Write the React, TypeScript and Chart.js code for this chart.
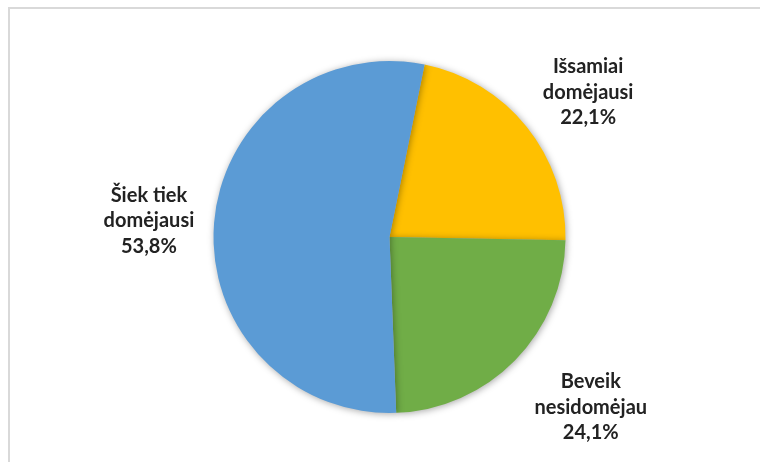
import React, { useEffect, useRef } from "react";
import { Chart, registerables } from "chart.js";

Chart.register(...registerables);

const categories = ["Išsamiai domėjausi", "Beveik nesidomėjau", "Šiek tiek domėjausi"];
const labelLines = [["Išsamiai", "domėjausi"], ["Beveik", "nesidomėjau"], ["Šiek tiek", "domėjausi"]];
const values = [22.1, 24.1, 53.8];
const valueLabels = ["22,1%", "24,1%", "53,8%"];
const colors = ["#FFC000", "#70AD47", "#5B9BD5"];
const labelDistance = [1.397, 1.498, 1.37];
const labelAngleOffset = [2.6, -4.2, -0.8];

const shadowPlugin = {
  id: "pieShadow",
  beforeDatasetsDraw(chart: any) {
    const ctx = chart.ctx;
    ctx.save();
    ctx.shadowColor = "rgba(0,0,0,0.35)";
    ctx.shadowBlur = 7;
    ctx.shadowOffsetX = 1;
    ctx.shadowOffsetY = 1;
  },
  afterDatasetsDraw(chart: any) {
    chart.ctx.restore();
  },
};

const labelPlugin = {
  id: "outerLabels",
  afterDraw(chart: any) {
    const ctx = chart.ctx;
    const meta = chart.getDatasetMeta(0);
    ctx.save();
    ctx.font = "bold 20px Lato, 'Open Sans', sans-serif";
    ctx.fillStyle = "#222222";
    ctx.textAlign = "center";
    ctx.textBaseline = "middle";
    meta.data.forEach((arc: any, i: number) => {
      const p = arc.getProps(["x", "y", "startAngle", "endAngle", "outerRadius"], true);
      const mid = (p.startAngle + p.endAngle) / 2 + (labelAngleOffset[i] * Math.PI) / 180;
      const d = p.outerRadius * labelDistance[i];
      const cx = p.x + Math.cos(mid) * d;
      const cy = p.y + Math.sin(mid) * d;
      const lines = [...labelLines[i], valueLabels[i]];
      const lh = 25.5;
      lines.forEach((t, k) => {
        ctx.fillText(t, cx, cy + (k - (lines.length - 1) / 2) * lh);
      });
    });
    ctx.restore();
  },
};

export default function App() {
  const ref = useRef<HTMLCanvasElement>(null);
  useEffect(() => {
    document.body.style.margin = "0";
    const chart = new Chart(ref.current!, {
      type: "pie",
      data: {
        labels: categories,
        datasets: [
          {
            data: values,
            backgroundColor: colors,
            borderWidth: 0,
          },
        ],
      },
      options: {
        animation: false,
        responsive: false,
        rotation: 11.5,
        layout: { padding: { left: 213.5, right: 194.5, top: 61, bottom: 49 } },
        plugins: {
          legend: { display: false },
          tooltip: { enabled: false },
        },
      },
      plugins: [shadowPlugin, labelPlugin],
    });
    return () => chart.destroy();
  }, []);
  return (
    <div style={{ position: "absolute", left: 0, top: 0, width: 760, height: 462, background: "#fff" }}>
      <div
        style={{
          position: "absolute",
          left: 8,
          top: 7,
          right: 0,
          bottom: 0,
          borderLeft: "2px solid #D9D9D9",
          borderTop: "2px solid #D9D9D9",
        }}
      />
      <canvas ref={ref} width={760} height={462} style={{ position: "absolute", left: 0, top: 0 }} />
    </div>
  );
}
